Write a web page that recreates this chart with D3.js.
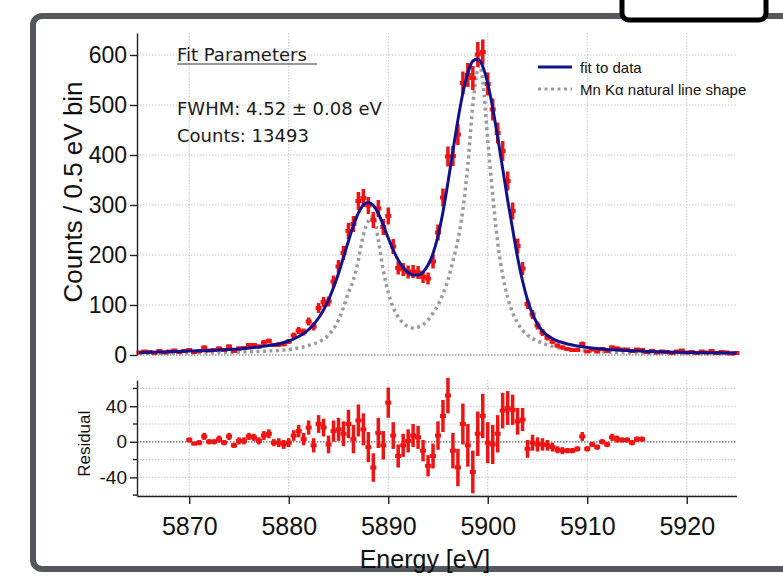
<!DOCTYPE html>
<html>
<head>
<meta charset="utf-8">
<script src="https://cdn.jsdelivr.net/npm/d3@7"></script>
<style>
  body { margin: 0; background: #fff; }
  svg { display: block; font-family: "Liberation Sans", Arial, sans-serif; }
</style>
</head>
<body>
<svg id="chart" width="783" height="577"></svg>
<script>
// bin centres (eV), 0.5 eV bins
const energies = [
  5865, 5865.5, 5866, 5866.5, 5867, 5867.5, 5868, 5868.5, 5869, 5869.5,
  5870, 5870.5, 5871, 5871.5, 5872, 5872.5, 5873, 5873.5, 5874, 5874.5,
  5875, 5875.5, 5876, 5876.5, 5877, 5877.5, 5878, 5878.5, 5879, 5879.5,
  5880, 5880.5, 5881, 5881.5, 5882, 5882.5, 5883, 5883.5, 5884, 5884.5,
  5885, 5885.5, 5886, 5886.5, 5887, 5887.5, 5888, 5888.5, 5889, 5889.5,
  5890, 5890.5, 5891, 5891.5, 5892, 5892.5, 5893, 5893.5, 5894, 5894.5,
  5895, 5895.5, 5896, 5896.5, 5897, 5897.5, 5898, 5898.5, 5899, 5899.5,
  5900, 5900.5, 5901, 5901.5, 5902, 5902.5, 5903, 5903.5, 5904, 5904.5,
  5905, 5905.5, 5906, 5906.5, 5907, 5907.5, 5908, 5908.5, 5909, 5909.5,
  5910, 5910.5, 5911, 5911.5, 5912, 5912.5, 5913, 5913.5, 5914, 5914.5,
  5915, 5915.5, 5916, 5916.5, 5917, 5917.5, 5918, 5918.5, 5919, 5919.5,
  5920, 5920.5, 5921, 5921.5, 5922, 5922.5, 5923, 5923.5, 5924, 5924.5,
  5925
];
const counts = [
  5, 7, 6, 4, 8, 5, 7, 9, 6, 8,
  10, 6, 8, 15, 9, 10, 13, 10, 17, 8,
  13, 14, 20, 20, 17, 25, 28, 20, 21, 22,
  27, 39, 49, 46, 67, 57, 94, 106, 107, 147,
  177, 204, 248, 262, 308, 314, 299, 270, 293, 256,
  278, 217, 174, 171, 166, 167, 165, 156, 153, 187,
  245, 315, 397, 398, 441, 544, 560, 554, 601, 606,
  542, 491, 444, 408, 348, 288, 218, 173, 102, 81,
  59, 45, 35, 27, 19, 15, 12, 10, 10, 22,
  7, 11, 7, 12, 8, 15, 13, 11, 11, 8,
  11, 10, 6, 8, 5, 7, 6, 4, 7, 9,
  5, 6, 4, 7, 5, 8, 4, 6, 5, 3,
  4
];
const errors = [
  2, 3, 2, 2, 3, 2, 3, 3, 2, 3,
  3, 2, 3, 4, 3, 3, 4, 3, 4, 3,
  4, 4, 4, 4, 4, 5, 5, 4, 5, 5,
  5, 6, 7, 7, 8, 8, 10, 10, 10, 12,
  13, 14, 16, 16, 18, 18, 17, 16, 17, 16,
  17, 15, 13, 13, 13, 13, 13, 12, 12, 14,
  16, 18, 20, 20, 21, 23, 24, 24, 25, 25,
  23, 22, 21, 20, 19, 17, 15, 13, 10, 9,
  8, 7, 6, 5, 4, 4, 3, 3, 3, 5,
  3, 3, 3, 3, 3, 4, 4, 3, 3, 3,
  3, 3, 2, 3, 2, 3, 2, 2, 3, 3,
  2, 2, 2, 3, 2, 3, 2, 2, 2, 2,
  2
];
// residuals for bins 5870.0 .. 5915.5
const residuals = [
  2, -2, -1, 6, 0, 0, 3, -1, 6, -4,
  1, 1, 6, 5, 1, 7, 9, -1, -1, -3,
  -1, 7, 12, 3, 16, -4, 20, 16, -3, 12,
  14, 9, 20, 3, 24, 14, -6, -29, 10, -4,
  44, 7, -16, -4, 1, 7, 5, -10, -27, -16,
  7, 29, 52, -10, -29, 20, -4, -34, 9, 29,
  -1, -3, 9, 35, 38, 36, 23, 25, -8, -1,
  -3, -3, -4, -6, -9, -10, -10, -10, -8, 6,
  -8, -3, -6, 0, -3, 5, 3, 2, 2, -1,
  3, 3
];
const residEnergies = energies.slice(10, 102);
const residErrors = errors.slice(10, 102);

// fit to data
const fitEnergy = [
  5865, 5866, 5867, 5868, 5869, 5870, 5871, 5872, 5873, 5874, 5875, 5876, 5877, 5878,
  5879, 5879.5, 5880, 5880.5, 5881, 5881.5, 5882, 5882.5, 5883, 5883.5, 5884, 5884.5,
  5885, 5885.5, 5886, 5886.5, 5887, 5887.5, 5888, 5888.5, 5889, 5889.5, 5890, 5890.5,
  5891, 5891.5, 5892, 5892.5, 5893, 5893.5, 5894, 5894.5, 5895, 5895.5, 5896, 5896.5,
  5897, 5897.5, 5898, 5898.5, 5899, 5899.5, 5900, 5900.5, 5901, 5901.5, 5902, 5902.5,
  5903, 5903.5, 5904, 5904.5, 5905, 5905.5, 5906, 5906.5, 5907, 5907.5, 5908,
  5909, 5910, 5911, 5912, 5913, 5914, 5915, 5916, 5918, 5920, 5922, 5925
];
const fitCounts = [
  5, 5.5, 6, 6.5, 7.2, 8, 8.5, 9, 10, 11, 12, 14, 16, 19,
  22, 25, 28, 32, 37, 43, 51, 61, 74, 90, 110, 135,
  163, 195, 228, 259, 284, 300, 305, 299, 283, 260, 234, 210,
  190, 175, 165, 160, 160, 166, 180, 203, 238, 286, 345, 408,
  470, 524, 564, 588, 592, 577, 543, 494, 435, 373, 310, 252,
  195, 148, 110, 82, 62, 48, 39, 33, 28, 25, 22,
  18, 15, 13, 11, 10, 9, 8, 7, 6, 5, 4.5, 4
];

// Mn K-alpha natural line shape
const natEnergy = [
  5865, 5870, 5875, 5878, 5880, 5881, 5882, 5883, 5884, 5885, 5885.5, 5886, 5886.5,
  5887, 5887.5, 5888, 5888.5, 5889, 5889.5, 5890, 5890.5, 5891, 5891.5, 5892, 5892.5,
  5893, 5893.5, 5894, 5894.5, 5895, 5895.5, 5896, 5896.5, 5897, 5897.5, 5898, 5898.5,
  5899, 5899.2, 5899.5, 5900, 5900.5, 5901, 5901.5, 5902, 5902.5, 5903, 5904, 5905,
  5906, 5907, 5908, 5910, 5912, 5915, 5920, 5925
];
const natCounts = [
  3, 4, 6, 8, 11, 14, 19, 26, 40, 70, 95, 125, 150,
  190, 240, 268, 277, 230, 170, 125, 95, 76, 64, 57, 54,
  56, 61, 70, 84, 100, 122, 150, 188, 230, 290, 380, 500,
  572, 579, 548, 430, 320, 225, 160, 115, 85, 64, 40, 28,
  20, 15, 12, 8, 6, 4, 3, 2
];

const xTicks = [5870, 5880, 5890, 5900, 5910, 5920];
const yTicks = [0, 100, 200, 300, 400, 500, 600];
const residTicks = [-40, 0, 40];
const residMinor = [-60, -20, 20, 60];
const residGrid = [-60, -40, -20, 20, 40, 60];

const red = '#ee1414';
const navy = '#12128c';
const gridColor = '#c4c4c4';

const svg = d3.select('#chart');

// outer frame + box at top right
svg.append('rect')
    .attr('x', 33).attr('y', 16).attr('width', 800).attr('height', 553)
    .attr('rx', 9)
    .attr('fill', '#fff').attr('stroke', '#54585d').attr('stroke-width', 6);
svg.append('rect')
    .attr('x', 622).attr('y', -20).attr('width', 144).attr('height', 40)
    .attr('rx', 7)
    .attr('fill', '#fff').attr('stroke', '#000').attr('stroke-width', 5);

const x = d3.scaleLinear().domain([5864.75, 5925]).range([137, 736.5]);
const y = d3.scaleLinear().domain([0, 644]).range([355, 33]);
const yr = d3.scaleLinear().domain([-61, 69.5]).range([496, 380]);

// grid, main panel
const grid = svg.append('g')
    .attr('stroke', gridColor).attr('stroke-width', 1).attr('stroke-dasharray', '1.5,1.5');
grid.selectAll('.gv').data(xTicks).join('line')
    .attr('x1', d => x(d)).attr('x2', d => x(d))
    .attr('y1', y(644)).attr('y2', y(0));
grid.selectAll('.gh').data(yTicks.filter(d => d > 0)).join('line')
    .attr('x1', x.range()[0]).attr('x2', x.range()[1])
    .attr('y1', d => y(d)).attr('y2', d => y(d));

// grid, residual panel
grid.selectAll('.rv').data(xTicks).join('line')
    .attr('x1', d => x(d)).attr('x2', d => x(d))
    .attr('y1', yr.range()[1]).attr('y2', yr.range()[0]);
grid.selectAll('.rh').data(residGrid).join('line')
    .attr('x1', x.range()[0]).attr('x2', x.range()[1])
    .attr('y1', d => yr(d)).attr('y2', d => yr(d));

// zero lines
svg.append('g')
    .attr('stroke', '#666').attr('stroke-width', 1.2).attr('stroke-dasharray', '1.5,1.5')
    .selectAll('line').data([y(0), yr(0)]).join('line')
    .attr('x1', x.range()[0]).attr('x2', x.range()[1])
    .attr('y1', d => d).attr('y2', d => d);

// natural line shape
const natLine = d3.line()
    .x((d, i) => x(natEnergy[i]))
    .y(d => y(d))
    .curve(d3.curveMonotoneX);
svg.append('path')
    .datum(natCounts)
    .attr('fill', 'none')
    .attr('stroke', '#9b9b9b')
    .attr('stroke-width', 3.5)
    .attr('stroke-dasharray', '3,3.5')
    .attr('d', natLine);

// data with error bars
const dataG = svg.append('g');
dataG.selectAll('line').data(counts).join('line')
    .attr('x1', (d, i) => x(energies[i])).attr('x2', (d, i) => x(energies[i]))
    .attr('y1', (d, i) => y(d - errors[i])).attr('y2', (d, i) => y(d + errors[i]))
    .attr('stroke', red).attr('stroke-width', 3.5);
dataG.selectAll('rect').data(counts).join('rect')
    .attr('x', (d, i) => x(energies[i]) - 3).attr('y', d => y(d) - 2)
    .attr('width', 6).attr('height', 4)
    .attr('fill', red);

// fit
const fitLine = d3.line()
    .x((d, i) => x(fitEnergy[i]))
    .y(d => y(d))
    .curve(d3.curveMonotoneX);
svg.append('path')
    .datum(fitCounts)
    .attr('fill', 'none')
    .attr('stroke', navy)
    .attr('stroke-width', 3)
    .attr('d', fitLine);

// residuals
const resG = svg.append('g');
resG.selectAll('line').data(residuals).join('line')
    .attr('x1', (d, i) => x(residEnergies[i])).attr('x2', (d, i) => x(residEnergies[i]))
    .attr('y1', (d, i) => yr(d - residErrors[i])).attr('y2', (d, i) => yr(d + residErrors[i]))
    .attr('stroke', red).attr('stroke-width', 3.5);
resG.selectAll('rect').data(residuals).join('rect')
    .attr('x', (d, i) => x(residEnergies[i]) - 3).attr('y', d => yr(d) - 2)
    .attr('width', 6).attr('height', 4)
    .attr('fill', red);

// axes
function styleAxis(g, size) {
    g.selectAll('path, line').attr('stroke', '#222').attr('stroke-width', 1.4);
    g.selectAll('text').attr('fill', '#111').style('font-size', size + 'px');
}

svg.append('g')
    .attr('transform', `translate(${x.range()[0]},0)`)
    .call(d3.axisLeft(y).tickValues(yTicks).tickSize(7).tickSizeOuter(0).tickPadding(3))
    .call(g => styleAxis(g, 23));

svg.append('g')
    .attr('transform', `translate(${x.range()[0]},0)`)
    .call(d3.axisLeft(yr).tickValues(residTicks).tickFormat(d => String(d))
        .tickSize(7).tickSizeOuter(0).tickPadding(3))
    .call(g => styleAxis(g, 19));
svg.append('g')
    .attr('stroke', '#222').attr('stroke-width', 1.4)
    .selectAll('line').data(residMinor).join('line')
    .attr('x1', x.range()[0] - 4).attr('x2', x.range()[0])
    .attr('y1', d => yr(d)).attr('y2', d => yr(d));

svg.append('g')
    .attr('transform', `translate(0,${yr.range()[0]})`)
    .call(d3.axisBottom(x).tickValues(xTicks).tickFormat(d3.format('d'))
        .tickSize(8).tickSizeOuter(0).tickPadding(13))
    .call(g => styleAxis(g, 25));

// axis titles
svg.append('text')
    .attr('transform', 'translate(82,192) rotate(-90)')
    .attr('text-anchor', 'middle')
    .attr('fill', '#111')
    .style('font-size', '26px')
    .text('Counts / 0.5 eV bin');
svg.append('text')
    .attr('transform', `translate(90,${yr(0) + 2}) rotate(-90)`)
    .attr('text-anchor', 'middle')
    .attr('fill', '#111')
    .style('font-size', '17px')
    .text('Residual');
svg.append('text')
    .attr('x', 425).attr('y', 568)
    .attr('text-anchor', 'middle')
    .attr('fill', '#111')
    .style('font-size', '25px')
    .text('Energy [eV]');

// fit parameter box
const note = svg.append('g')
    .style('font-family', '"DejaVu Sans", Verdana, sans-serif')
    .attr('fill', '#1a1a1a');
note.append('text').attr('x', 177).attr('y', 61).style('font-size', '18px').text('Fit Parameters');
note.append('line')
    .attr('x1', 177).attr('x2', 317).attr('y1', 64).attr('y2', 64)
    .attr('stroke', '#333').attr('stroke-width', 1.2);
note.append('text').attr('x', 177).attr('y', 115).style('font-size', '18px').text('FWHM: 4.52 ± 0.08 eV');
note.append('text').attr('x', 177).attr('y', 142).style('font-size', '18px').text('Counts: 13493');

// legend
const legend = svg.append('g').attr('transform', 'translate(538,0)');
legend.append('line')
    .attr('x1', 0).attr('x2', 34).attr('y1', 67).attr('y2', 67)
    .attr('stroke', navy).attr('stroke-width', 3);
legend.append('line')
    .attr('x1', 0).attr('x2', 34).attr('y1', 89).attr('y2', 89)
    .attr('stroke', '#9b9b9b').attr('stroke-width', 3).attr('stroke-dasharray', '3,3.5');
legend.append('text').attr('x', 42).attr('y', 73).attr('fill', '#111')
    .style('font-size', '15px').text('fit to data');
legend.append('text').attr('x', 42).attr('y', 95).attr('fill', '#111')
    .style('font-size', '15px').text('Mn Kα natural line shape');
</script>
</body>
</html>
